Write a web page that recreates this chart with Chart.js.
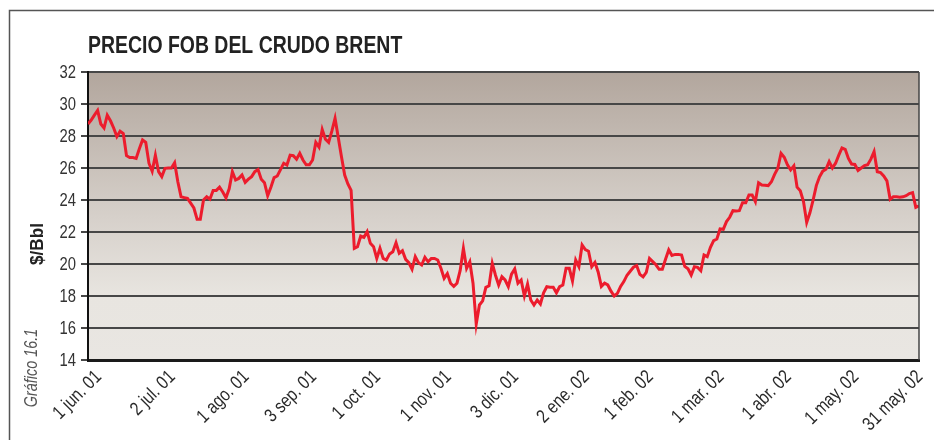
<!DOCTYPE html>
<html>
<head>
<meta charset="utf-8">
<title>Precio FOB del crudo Brent</title>
<script src="https://cdn.jsdelivr.net/npm/chart.js@4.4.1/dist/chart.umd.min.js"></script>
<style>
    html, body { margin: 0; padding: 0; background: #fff; }
    canvas { display: block; }
</style>
</head>
<body>
<canvas id="graficoBrent" width="934" height="440"></canvas>
<script>
// Precio diario (US$/barril), un valor por día de cotización, fin may. 2001 - 31 may. 2002
const precios = [
    28.75, 29.0, 29.3, 29.6, 28.75, 28.5, 29.3, 28.95, 28.5, 27.96,
    28.3, 28.15, 26.77, 26.65, 26.65, 26.6, 27.2, 27.75, 27.6, 26.3,
    25.8, 26.8, 25.77, 25.46, 25.98, 26.0, 26.0, 26.33, 25.14, 24.2,
    24.15, 24.1, 23.8, 23.5, 22.8, 22.8, 24.0, 24.2, 24.05, 24.6,
    24.6, 24.8, 24.5, 24.14, 24.7, 25.77, 25.25, 25.35, 25.56, 25.1,
    25.3, 25.46, 25.77, 25.9, 25.3, 25.08, 24.27, 24.8, 25.4, 25.5,
    25.9, 26.3, 26.19, 26.8, 26.77, 26.55, 26.92, 26.5, 26.2, 26.2,
    26.5, 27.6, 27.3, 28.4, 27.8, 27.6, 28.3, 29.1, 27.9, 26.7,
    25.56, 25.0, 24.6, 20.98, 21.08, 21.75, 21.67, 22.02, 21.29, 21.08,
    20.35, 20.98, 20.35, 20.25, 20.63, 20.77, 21.33, 20.67, 20.83, 20.29,
    20.08, 19.67, 20.46, 20.08, 19.94, 20.42, 20.14, 20.35, 20.35, 20.25,
    19.73, 19.1, 19.4, 18.8, 18.6, 18.8, 19.6, 20.98, 19.73, 20.14,
    18.8, 16.25, 17.44, 17.7, 18.54, 18.64, 20.04, 19.3, 18.69, 19.2,
    19.0, 18.58, 19.37, 19.69, 18.8, 19.0, 18.0, 18.75, 17.75, 17.44,
    17.75, 17.5, 18.2, 18.58, 18.55, 18.55, 18.2, 18.58, 18.69, 19.73,
    19.73, 18.94, 20.25, 19.83, 21.19, 20.9, 20.8, 19.83, 20.1, 19.5,
    18.6, 18.8, 18.69, 18.3, 18.0, 18.17, 18.6, 18.9, 19.3, 19.55,
    19.8, 19.9, 19.35, 19.2, 19.48, 20.35, 20.15, 19.95, 19.67, 19.67,
    20.3, 20.88, 20.54, 20.6, 20.6, 20.56, 19.85, 19.7, 19.31, 19.83,
    19.79, 19.58, 20.56, 20.46, 21.04, 21.46, 21.56, 22.19, 22.17, 22.65,
    22.92, 23.33, 23.31, 23.33, 23.83, 23.83, 24.31, 24.31, 23.9, 25.08,
    24.94, 24.92, 24.9, 25.14, 25.6, 25.98, 26.92, 26.67, 26.2, 25.88,
    26.13, 24.8, 24.58, 23.9, 22.6, 23.2, 24.0, 24.9, 25.45, 25.8,
    25.92, 26.4, 26.0, 26.3, 26.8, 27.25, 27.17, 26.6, 26.25, 26.22,
    25.85, 26.0, 26.15, 26.2, 26.55, 27.02, 25.77, 25.72, 25.5, 25.2,
    24.04, 24.2, 24.2, 24.17, 24.2, 24.27, 24.4, 24.46, 23.54, 23.63
];

// posición en precios de cada fecha rotulada
const posEtiquetas = [3, 26, 49, 70, 90, 112, 133, 155, 175, 197, 218, 239, 259];
const etiquetas = [
    '1 jun. 01', '2 jul. 01', '1 ago. 01', '3 sep. 01', '1 oct. 01', '1 nov. 01',
    '3 dic. 01', '2 ene. 02', '1 feb. 02', '1 mar. 02', '1 abr. 02', '1 may. 02', '31 may. 02'
];

const FUENTE = '"Liberation Sans", Arial, sans-serif';
const ANGOSTO = 0.8; // compresión horizontal para imitar una letra condensada

function textoAngosto(ctx, texto, x, y, angulo, escala) {
    ctx.save();
    ctx.translate(x, y);
    ctx.rotate(angulo);
    ctx.scale(escala, 1);
    ctx.fillText(texto, 0, 0);
    ctx.restore();
}

// fondo degradado del área del gráfico y marco exterior
const fondo = {
    id: 'fondo',
    beforeDraw(chart) {
        const { ctx, chartArea: a } = chart;
        ctx.save();
        const grad = ctx.createLinearGradient(0, a.top, 0, a.bottom);
        grad.addColorStop(0, '#b2a69d');
        grad.addColorStop(0.5, '#d6d0ca');
        grad.addColorStop(0.78, '#e8e5e0');
        grad.addColorStop(1, '#e9e6e2');
        ctx.fillStyle = grad;
        ctx.fillRect(a.left, a.top, a.right - a.left, a.bottom - a.top);

        ctx.strokeStyle = '#555';
        ctx.lineWidth = 1.5;
        ctx.beginPath();
        ctx.moveTo(9.5, chart.height + 5);
        ctx.lineTo(9.5, 10.5);
        ctx.lineTo(chart.width + 5, 10.5);
        ctx.stroke();
        ctx.restore();
    }
};

// rótulos de los ejes, título y número del gráfico
const textos = {
    id: 'textos',
    afterDraw(chart) {
        const { ctx, chartArea: a } = chart;
        const ejeX = chart.scales.x;
        const ejeY = chart.scales.y;
        ctx.save();
        ctx.strokeStyle = '#444';
        ctx.lineWidth = 1.5;
        ctx.beginPath();
        ctx.moveTo(a.right, a.top);
        ctx.lineTo(a.right, a.bottom);
        ctx.stroke();

        // valores del eje vertical
        ctx.fillStyle = '#333';
        ctx.font = '19px ' + FUENTE;
        ctx.textAlign = 'right';
        ctx.textBaseline = 'middle';
        ejeY.ticks.forEach(t => {
            textoAngosto(ctx, String(t.value), 76, ejeY.getPixelForValue(t.value) + 1, 0, 0.78);
        });

        // fechas inclinadas del eje horizontal
        ctx.fillStyle = '#2a2a2a';
        ctx.font = '19px ' + FUENTE;
        posEtiquetas.forEach((p, i) => {
            const x = ejeX.getPixelForValue(p);
            textoAngosto(ctx, etiquetas[i], x + 1, a.bottom + 14, -Math.PI / 4, 0.82);
        });

        ctx.fillStyle = '#222';
        ctx.font = 'bold 24px ' + FUENTE;
        ctx.textAlign = 'left';
        ctx.textBaseline = 'alphabetic';
        textoAngosto(ctx, 'PRECIO FOB DEL CRUDO BRENT', 88, 53, 0, 0.81);

        ctx.textAlign = 'center';
        ctx.textBaseline = 'middle';
        ctx.font = 'bold 18px ' + FUENTE;
        textoAngosto(ctx, '$/Bbl', 38, 244, -Math.PI / 2, 0.95);

        ctx.fillStyle = '#555';
        ctx.font = 'italic 18px ' + FUENTE;
        textoAngosto(ctx, 'Gráfico 16.1', 32, 368, -Math.PI / 2, ANGOSTO);
        ctx.restore();
    }
};

const ctx = document.getElementById('graficoBrent').getContext('2d');
new Chart(ctx, {
    type: 'line',
    data: {
        datasets: [{
            data: precios.map((p, i) => ({ x: i, y: p })),
            borderColor: '#ec1c2d',
            borderWidth: 3,
            pointRadius: 0,
            tension: 0,
            fill: false
        }]
    },
    options: {
        responsive: false,
        animation: false,
        layout: { padding: { left: 0, top: 72, right: 15, bottom: 0 } },
        plugins: {
            legend: { display: false },
            tooltip: { enabled: false },
            title: { display: false }
        },
        scales: {
            x: {
                type: 'linear',
                min: 0,
                max: precios.length - 1,
                afterBuildTicks: axis => {
                    axis.ticks = posEtiquetas.map(v => ({ value: v }));
                },
                afterFit: scale => { scale.height = 80; },
                grid: { display: false },
                border: { display: true, color: '#1a1a1a', width: 3 },
                ticks: { display: false }
            },
            y: {
                min: 14,
                max: 32,
                afterFit: scale => { scale.width = 88; },
                grid: { color: '#474747', lineWidth: 2, tickLength: 7 },
                border: { display: true, color: '#111', width: 2 },
                ticks: { stepSize: 2, display: false }
            }
        }
    },
    plugins: [fondo, textos]
});
</script>
</body>
</html>
